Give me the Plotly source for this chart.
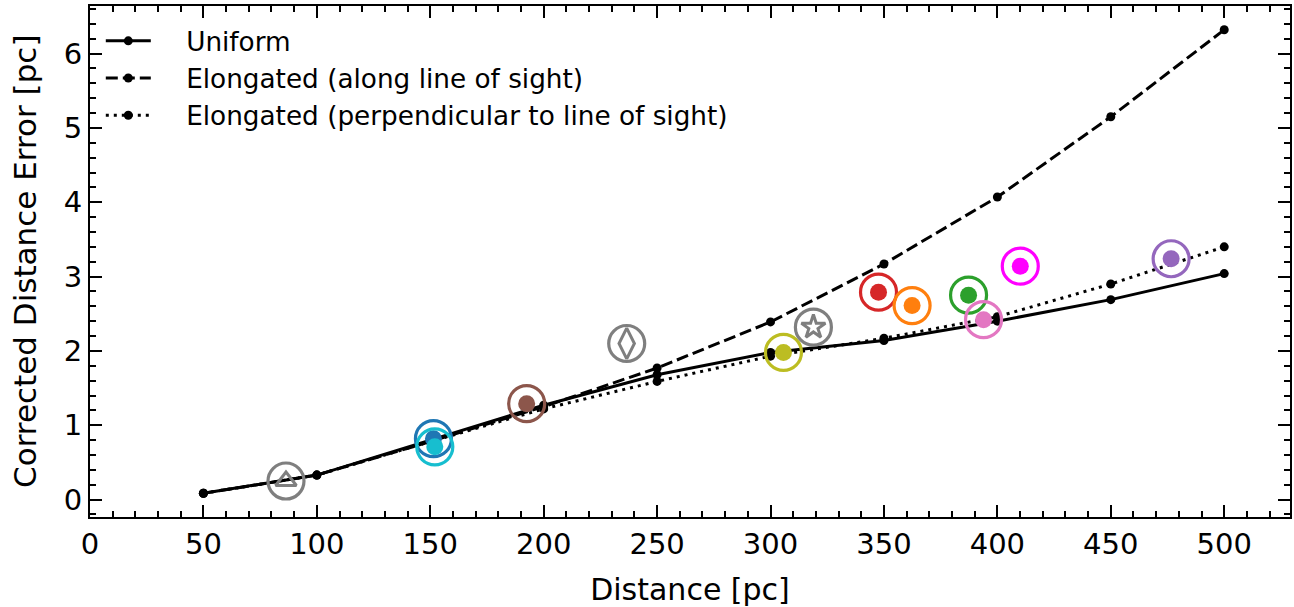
import plotly.graph_objects as go

# Model curves
distance = [50, 100, 150, 200, 250, 300, 350, 400, 450, 500]
err_uniform = [0.085, 0.33, 0.80, 1.27, 1.68, 1.98, 2.14, 2.40, 2.69, 3.04]
err_along = [0.085, 0.33, 0.78, 1.25, 1.77, 2.39, 3.17, 4.07, 5.15, 6.32]
err_perp = [0.085, 0.33, 0.78, 1.22, 1.59, 1.93, 2.17, 2.46, 2.90, 3.40]
series_names = ["Uniform", "Elongated (along line of sight)",
                "Elongated (perpendicular to line of sight)"]

# Individual objects
obj_x = [86.4, 151.4, 152.0, 192.5, 236.6, 305.7, 318.9, 347.6, 362.4, 387.3, 393.9, 410.1, 476.6]
obj_y = [0.25, 0.82, 0.71, 1.29, 2.10, 1.98, 2.32, 2.79, 2.61, 2.75, 2.42, 3.14, 3.24]
obj_colors = ["#7f7f7f", "#1f77b4", "#17becf", "#8c564b", "#7f7f7f", "#bcbd22", "#7f7f7f",
              "#d62728", "#ff7f0e", "#2ca02c", "#e377c2", "#ff00ff", "#9467bd"]
obj_symbols = ["triangle-up-open", "circle", "circle", "circle", "diamond-tall-open", "circle",
               "star-open", "circle", "circle", "circle", "circle", "circle", "circle"]

FONT = "DejaVu Sans"
PAD = "\u00a0\u00a0\u00a0\u2009"  # gap between legend sample and label
fig = go.Figure()

line_style = dict(color="black", width=3)
dashes = ["solid", "12px,5px", "3px,5px"]
for yv, nm, ds in zip([err_uniform, err_along, err_perp], series_names, dashes):
    fig.add_trace(go.Scatter(x=distance, y=yv, mode="lines+markers", name=PAD + nm,
                             line=dict(line_style, dash=ds), marker=dict(size=9, color="black")))

for xv, yv, c, s in zip(obj_x, obj_y, obj_colors, obj_symbols):
    fig.add_trace(go.Scatter(x=[xv], y=[yv], mode="markers", showlegend=False, hoverinfo="skip",
                             marker=dict(symbol="circle-open", size=36, color=c,
                                         line=dict(width=3.2, color=c))))
    if s == "circle":
        fig.add_trace(go.Scatter(x=[xv], y=[yv], mode="markers", showlegend=False,
                                 marker=dict(symbol="circle", size=17, color=c, line=dict(width=0))))
    else:
        fig.add_trace(go.Scatter(x=[xv], y=[yv], mode="markers", showlegend=False,
                                 marker=dict(symbol=s, size=18 if s != "diamond-tall-open" else 22,
                                             color=c, line=dict(width=3, color=c))))

axis_common = dict(
    showline=True, linecolor="black", linewidth=2, mirror="allticks",
    ticks="inside", ticklen=12, tickwidth=2, tickcolor="black",
    showgrid=False, zeroline=False, automargin=False,
    tickfont=dict(family=FONT, size=29, color="black"),
)

fig.update_xaxes(axis_common, range=[0, 529], dtick=50, tick0=0,
                 title=dict(text="Distance [pc]", standoff=23,
                            font=dict(family=FONT, size=30, color="black")),
                 minor=dict(dtick=10, ticks="inside", ticklen=6, tickwidth=1.5, tickcolor="black"))
fig.update_yaxes(axis_common, range=[-0.234, 6.64], dtick=1, tick0=0,
                 minor=dict(dtick=0.2, ticks="inside", ticklen=6, tickwidth=1.5, tickcolor="black"))

fig.add_annotation(text="Corrected Distance Error [pc]", textangle=-90,
                   xref="paper", yref="paper", x=-0.0546, y=0.5,
                   xanchor="center", yanchor="middle", showarrow=False,
                   font=dict(family=FONT, size=31, color="black"))

fig.update_layout(
    width=1294, height=607,
    margin=dict(l=90, r=4, t=6, b=90),
    plot_bgcolor="white", paper_bgcolor="white",
    font=dict(family=FONT, color="black"),
    legend=dict(x=0.009, y=0.978, xanchor="left", yanchor="top",
                bgcolor="rgba(0,0,0,0)", font=dict(family=FONT, size=26.3, color="black"),
                itemwidth=45, tracegroupgap=0),
)

fig.write_html("out.html", config={"displayModeBar": False},
               post_script="document.body.style.margin='0';")
